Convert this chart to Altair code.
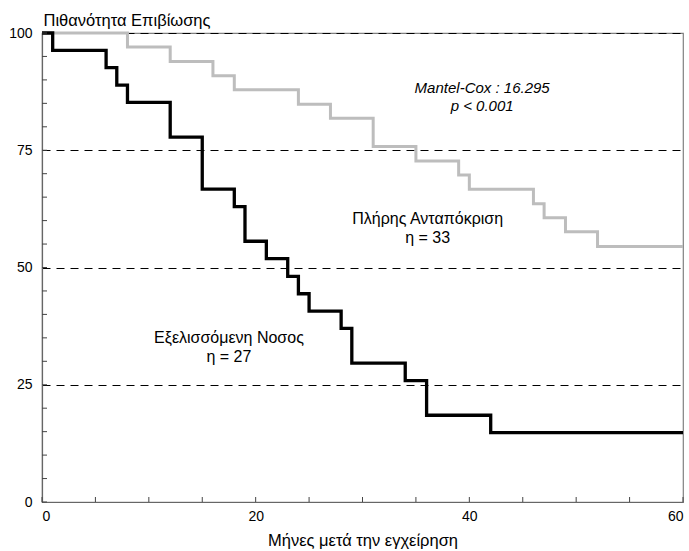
import altair as alt
import pandas as pd

# Kaplan-Meier steps
months_prog = [0, 1, 6, 7, 8, 12, 15, 18, 19, 21, 23, 24, 25, 28, 29, 34, 36, 42, 60]
surv_prog = [100, 96.3, 92.6, 88.9, 85.2, 77.8, 66.7, 63.0, 55.6, 51.9, 48.1, 44.4,
             40.7, 37.0, 29.6, 25.9, 18.5, 14.8, 14.8]
months_resp = [0, 8, 12, 16, 18, 24, 27, 31, 35, 39, 40, 46, 47, 49, 52, 60]
surv_resp = [100, 97.0, 93.9, 90.9, 87.9, 84.8, 81.8, 75.8, 72.7, 69.7, 66.7, 63.6,
             60.6, 57.6, 54.5, 54.5]

y_ticks = list(range(0, 101, 5))
x_ticks = list(range(0, 61, 5))
y_labels = [0, 25, 50, 75, 100]
x_labels = [0, 20, 40, 60]

annot_italic = ["Mantel-Cox : 16.295", "p < 0.001"]
annot_italic_x = [41.2, 41.2]
annot_italic_y = [88.3, 84.4]
annot_text = ["Πλήρης Ανταπόκριση", "η = 33", "Εξελισσόμενη Νοσος", "η = 27"]
annot_x = [36.1, 36.1, 17.5, 17.5]
annot_y = [60.3, 56.3, 35.0, 30.9]

W, H = 641, 469
FONT = "Liberation Sans"

xs = alt.Scale(domain=[0, 60], nice=False, zero=False)
ys = alt.Scale(domain=[0, 100], nice=False, zero=False)

ax_x = alt.Axis(
    values=x_labels, tickSize=0, labelPadding=7, grid=False,
    title="Μήνες μετά την εγχείρηση", titleFontSize=16.5, titleFontWeight="normal",
    titleFont=FONT, titleBaseline="middle", titleY=38, titleX=W / 2,
    labelFont=FONT, labelFontSize=14, labelColor="#000", titleColor="#000",
    domainColor="#666", domainWidth=1.2)
ax_y = alt.Axis(
    values=y_labels, tickSize=0, labelPadding=10, grid=True,
    gridColor="#000", gridDash=[8, 6], gridWidth=1, gridOpacity=1,
    title="Πιθανότητα Επιβίωσης", titleAngle=0, titleAlign="left",
    titleBaseline="alphabetic", titleX=1, titleY=-8, titleFontSize=16.5,
    titleFontWeight="normal", titleFont=FONT, titleColor="#000",
    labelFont=FONT, labelFontSize=14, labelColor="#000",
    domainColor="#666", domainWidth=1.2)

df_prog = pd.DataFrame({"m": months_prog, "s": surv_prog})
df_resp = pd.DataFrame({"m": months_resp, "s": surv_resp})

resp = alt.Chart(df_resp).mark_line(
    interpolate="step-after", color="#bdbdbd", strokeWidth=3
).encode(
    x=alt.X("m:Q", scale=xs, axis=ax_x),
    y=alt.Y("s:Q", scale=ys, axis=ax_y),
)

prog = alt.Chart(df_prog).mark_line(
    interpolate="step-after", color="#000", strokeWidth=3.3
).encode(
    x=alt.X("m:Q", scale=xs, axis=ax_x),
    y=alt.Y("s:Q", scale=ys, axis=ax_y),
)

yt = alt.Chart(pd.DataFrame({"m": [0] * len(y_ticks), "s": y_ticks})).mark_rule(
    color="#444", strokeWidth=1
).encode(
    y=alt.Y("s:Q", scale=ys, axis=ax_y),
    x=alt.value(0), x2=alt.value(5),
)
xt = alt.Chart(pd.DataFrame({"m": x_ticks})).mark_rule(color="#444", strokeWidth=1).encode(
    x=alt.X("m:Q", scale=xs, axis=ax_x),
    y=alt.value(H), y2=alt.value(H - 5),
)

t_it = alt.Chart(pd.DataFrame({"t": annot_italic, "m": annot_italic_x, "s": annot_italic_y})).mark_text(
    font=FONT, fontSize=15, fontStyle="italic", color="#000", align="center", baseline="middle"
).encode(
    x=alt.X("m:Q", scale=xs, axis=ax_x),
    y=alt.Y("s:Q", scale=ys, axis=ax_y),
    text="t:N",
)
t_n = alt.Chart(pd.DataFrame({"t": annot_text, "m": annot_x, "s": annot_y})).mark_text(
    font=FONT, fontSize=16, color="#000", align="center", baseline="middle"
).encode(
    x=alt.X("m:Q", scale=xs, axis=ax_x),
    y=alt.Y("s:Q", scale=ys, axis=ax_y),
    text="t:N",
)

chart = alt.layer(resp, prog, yt, xt, t_it, t_n).properties(
    width=W, height=H,
    autosize=alt.AutoSizeParams(type="none"),
    padding={"left": 42, "top": 33, "right": 6, "bottom": 49},
    background="white",
).configure_view(stroke="#808080", strokeWidth=1.2)

chart.save("out.html", embed_options={"renderer": "svg", "actions": False})
